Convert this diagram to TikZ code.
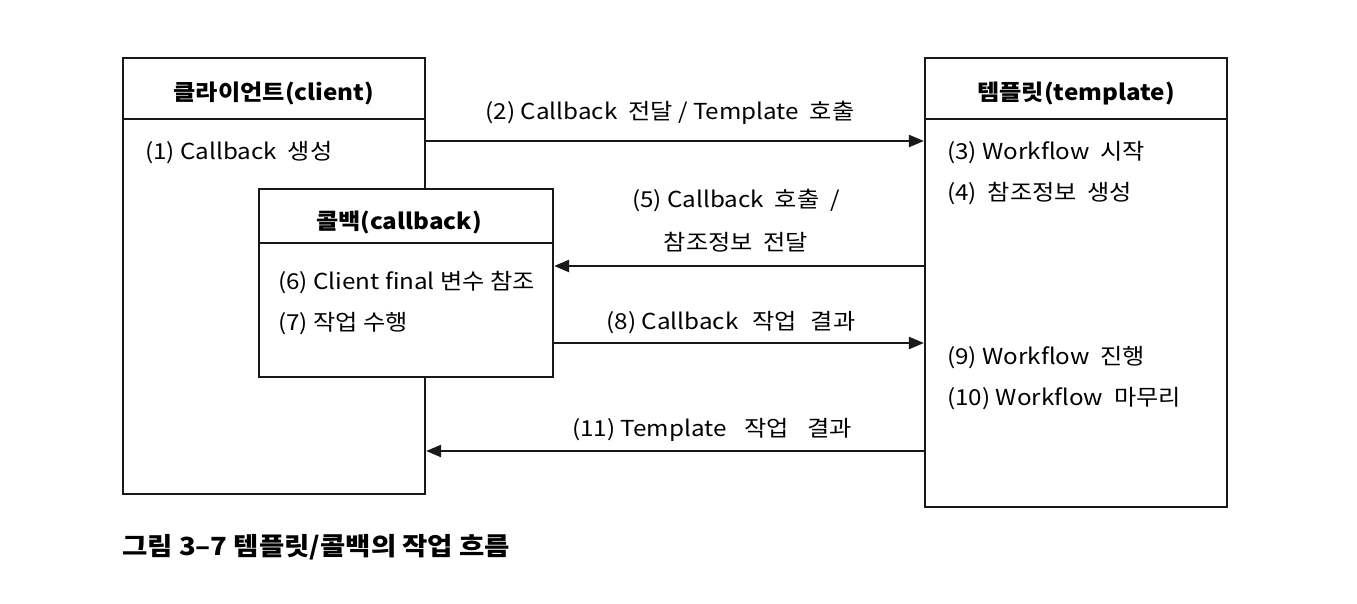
\documentclass[tikz,border=0pt]{standalone}
\usepackage{fontspec}
\setmainfont[FakeStretch=1.1]{Noto Sans CJK KR}
\usetikzlibrary{arrows.meta}
\begin{document}
\begin{tikzpicture}[x=1pt,y=-1pt,
  box/.style={draw=black!90, line width=2.2pt, fill=white, inner sep=0pt},
  hdr/.style={font=\fontsize{22}{26}\selectfont\bfseries, anchor=center},
  txt/.style={font=\fontsize{22}{26}\selectfont, anchor=west, inner sep=0pt},
  lbl/.style={font=\fontsize{22}{26}\selectfont, anchor=center, inner sep=0pt},
  flow/.style={line width=2.2pt, draw=black!90, -{Triangle[length=15pt,width=12pt]}}]
\useasboundingbox (0,0) rectangle (1357,603);
\fill[white] (0,0) rectangle (1357,603);
% boxes
\node[box, minimum width=302pt, minimum height=436pt] (client) at (274,276) {};
\node[box, minimum width=302pt, minimum height=449pt] (tmpl) at (1076,282.5) {};
\node[box, minimum width=294pt, minimum height=188pt] (cb) at (406,283) {};
% header lines
\coordinate (hc) at (0,119);
\coordinate (hb) at (0,243);
\draw[line width=2.2pt, black!90] (client.west |- hc) -- (client.east |- hc);
\draw[line width=2.2pt, black!90] (tmpl.west |- hc) -- (tmpl.east |- hc);
\draw[line width=2.2pt, black!90] (cb.west |- hb) -- (cb.east |- hb);
% titles
\node[hdr] (tc) at (274,93) {클라이언트(client)};
\node[hdr] (tt) at (1076,93) {템플릿(template)};
\node[hdr] (tb) at (399,222) {콜백(callback)};
% inner texts
\node[txt] (t1) at (145,153) {(1) Callback\ \ 생성};
\node[txt] (t3) at (947,153) {(3) Workflow\ \ 시작};
\node[txt] (t4) at (947,194) {(4)\ \ 참조정보\ \ 생성};
\node[txt] (t6) at (278,283) {(6) Client final 변수 참조};
\node[txt] (t7) at (278,324) {(7) 작업 수행};
\node[txt] (t9) at (947,358) {(9) Workflow\ \ 진행};
\node[txt] (t10) at (947,399) {(10) Workflow\ \ 마무리};
% arrows
\coordinate (y2) at (0,141);
\coordinate (y5) at (0,266);
\coordinate (y8) at (0,343);
\coordinate (y11) at (0,451);
\draw[flow] (client.east |- y2) -- (tmpl.west |- y2);
\draw[flow] (tmpl.west |- y5) -- (cb.east |- y5);
\draw[flow] (cb.east |- y8) -- (tmpl.west |- y8);
\draw[flow] (tmpl.west |- y11) -- (client.east |- y11);
% labels
\node[lbl] (l2) at (670,113) {(2) Callback\ \ 전달 / Template\ \ 호출};
\node[lbl] (l5a) at (736,200) {(5) Callback\ \ 호출\ \ /};
\node[lbl] (l5b) at (736,242) {참조정보\ \ 전달};
\node[lbl] (l8) at (731,323) {(8) Callback\hspace{14pt}작업\hspace{14pt}결과};
\node[lbl] (l11) at (712,430) {(11) Template\hspace{18pt}작업\hspace{18pt}결과};
% caption
\node[font=\fontsize{25}{28}\selectfont\bfseries, anchor=west, inner sep=0pt] (cap) at (122,547) {그림 3–7 템플릿/콜백의 작업 흐름};
\end{tikzpicture}
\end{document}
